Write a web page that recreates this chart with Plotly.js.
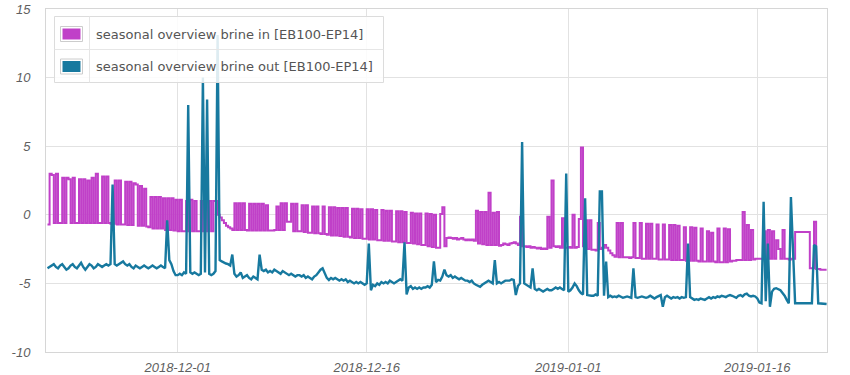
<!DOCTYPE html>
<html>
<head>
<meta charset="utf-8">
<script src="https://cdn.plot.ly/plotly-3.0.1.min.js"></script>
<style>html,body{margin:0;padding:0;background:#fff;}#chart{width:850px;height:375px;}</style>
</head>
<body>
<div id="chart"></div>
<script>
// Series names
const seriesNames = ['seasonal overview brine in [EB100-EP14]', 'seasonal overview brine out [EB100-EP14]'];
// Sampling grid: first sample time and step (hours)
const firstSample = '2018-11-20T16:00:00Z';
const stepHours = 4;
// Tick labels
const xTickVals = ['2018-12-01', '2018-12-16', '2019-01-01', '2019-01-16'];
const yTickVals = [-10, -5, 0, 5, 10, 15];

// brine in
const brineIn = [
-0.7, 3.0, 2.9, -0.6, 3.0, -0.6, -0.6, 2.7, -0.6, 2.7, 2.6, -0.6, 2.7, -0.6, -0.6, 2.6, -0.6, 2.6, -0.6, 2.5,
-0.6, 2.7, -0.6, 3.0, -0.6, -0.6, 2.8, -0.6, 2.8, -0.6, -0.65, -0.65, 2.5, -0.7, 2.5, -0.7, -0.7, 2.4, -0.75, 2.4,
-0.75, 2.3, 2.2, -0.8, 2.1, -0.8, 1.9, -0.85, -0.9, 1.3, -1.0, 1.3, -1.0, 1.3, -1.0, 1.2, -1.1, 1.2, -1.1, 1.2,
-1.15, 1.1, -1.2, 1.1, -1.2, -1.2, 1.0, -1.2, 1.1, -1.2, 1.0, -1.2, -1.2, 1.0, -1.2, 1.0, -1.2, 1.0, -1.2, 1.0,
1.0, 0.0, -0.2, -0.4, -0.6, -0.8, -0.9, -1.0, -1.1, 0.85, -1.1, 0.85, -1.1, 0.85, -1.1, -1.15, 0.8, -1.15, 0.8, -1.15,
0.8, -1.15, 0.8, -1.15, 0.7, -1.15, -1.15, -1.15, -1.1, 0.6, -1.1, 0.85, -1.1, 0.85, -0.5, -0.5, 0.8, -1.2, 0.8, -1.2,
-1.2, 0.7, -1.25, 0.7, -1.3, -1.3, 0.6, -1.35, 0.6, -1.35, -1.4, 0.6, -1.4, -1.45, 0.55, -1.5, 0.55, -1.5, 0.5, -1.55,
0.5, -1.6, 0.5, -1.6, -1.65, 0.45, -1.7, 0.45, -1.7, 0.4, -1.75, -1.75, 0.4, -1.8, 0.4, -1.8, 0.35, -1.85, -1.85, 0.35,
-1.9, 0.3, -1.9, 0.3, -1.95, -1.95, 0.25, -2.0, 0.25, -2.0, 0.2, -2.05, -2.05, 0.15, -2.1, 0.1, -2.15, 0.1, -2.2, -2.2,
0.1, -2.3, 0.05, -2.35, 0.0, -2.4, -2.4, 0.05, 0.55, -2.3, -1.7, -1.65, -1.7, -1.75, -1.7, -1.8, -1.75, -1.7, -1.8, -1.85,
-1.8, -1.85, -1.8, -1.9, 0.3, -2.1, 0.2, -2.15, 0.2, -2.2, 1.6, -2.2, 0.15, -2.2, 0.2, -2.25, -2.2, -2.1, -2.15, -2.2,
-2.1, -2.05, -2.0, -2.1, -2.2, -0.15, -2.3, -2.3, -2.35, -2.3, -2.4, -2.35, -2.4, -2.45, -2.4, -2.5, -2.45, -2.5, -0.15, -2.4,
2.5, -2.3, -2.35, -2.3, -2.4, -0.25, -2.4, -2.4, -2.35, -2.4, 0.0, -2.4, -2.35, -0.3, 4.9, -2.3, -0.4, -2.5, -0.4, -2.55,
-2.55, -2.6, -0.6, -2.5, -2.4, -2.2, -2.4, -2.6, -2.8, -2.95, -3.05, -0.6, -3.1, -0.6, -3.1, -3.1, -3.1, -3.15, -3.1, -0.6,
-3.15, -3.15, -0.6, -3.2, -3.2, -0.65, -3.2, -0.65, -3.2, -3.2, -0.7, -3.25, -3.25, -0.7, -3.25, -3.25, -0.75, -3.3, -0.75, -3.3,
-0.8, -3.3, -3.3, -0.9, -3.35, -3.35, -0.9, -3.35, -0.95, -3.35, -3.4, -1.0, -3.4, -3.4, -1.2, -3.4, -1.3, -3.4, -3.45, -1.0,
-3.45, -3.45, -1.0, -3.45, -1.05, -3.4, -3.35, -3.35, -3.3, -3.3, -3.3, 0.2, -3.3, -0.75, -3.3, -1.1, -3.25, -3.2, -3.2, -3.2,
-3.2, -1.2, -3.2, -1.1, -3.2, -1.2, -3.2, -1.85, -2.5, -3.2, -1.1, -3.2, -3.2, -3.25, -3.2, -3.2, -1.25, -1.25, -1.25, -1.25,
-1.25, -1.25, -1.25, -3.9, -3.9, -0.5, -3.95, -3.95, -4.0, -4.0, -4.0, -4.0
];

// brine out
const brineOut = [
-3.9, -3.8, -3.7, -3.6, -3.8, -3.9, -3.7, -3.6, -3.8, -4.0, -3.9, -3.7, -3.6, -3.8, -3.9, -3.7, -3.5, -3.8, -4.0, -3.8,
-3.6, -3.7, -3.9, -3.8, -3.6, -3.7, -3.8, -3.7, -3.6, -3.7, -3.6, 2.2, -3.6, -3.7, -3.6, -3.5, -3.4, -3.6, -3.7, -3.6,
-3.8, -3.9, -3.7, -3.8, -3.9, -3.8, -3.7, -3.8, -3.9, -3.8, -3.7, -3.8, -3.9, -3.8, -3.7, -3.8, -3.9, -0.4, -3.3, -3.6,
-4.1, -4.4, -4.4, -4.3, -4.4, -4.2, -4.3, 8.0, -4.2, -4.3, -4.2, -4.3, -4.4, -4.3, 10.0, -4.2, 8.4, -4.3, -4.4, -4.3,
-4.1, 13.1, -3.3, -3.4, -3.5, -3.55, -3.6, -3.7, -2.9, -4.3, -4.5, -4.4, -4.2, -4.6, -4.5, -4.4, -4.6, -4.7, -4.5, -4.6,
-4.7, -2.9, -4.0, -4.1, -4.0, -4.2, -4.1, -4.2, -4.0, -4.1, -4.2, -4.3, -4.1, -4.2, -4.3, -4.4, -4.3, -4.4, -4.5, -4.4,
-4.4, -4.5, -4.4, -4.6, -4.5, -4.6, -4.7, -4.5, -4.4, -4.2, -4.0, -3.9, -4.3, -4.6, -4.75, -4.6, -4.7, -4.6, -4.7, -4.8,
-4.7, -4.8, -4.7, -4.9, -4.8, -4.9, -5.0, -4.9, -5.0, -4.9, -5.0, -5.1, -5.0, -2.1, -5.5, -5.1, -5.2, -5.0, -5.1, -4.9,
-5.0, -4.9, -5.0, -4.8, -4.9, -5.0, -4.9, -4.8, -4.7, -4.8, -2.0, -5.8, -5.3, -5.2, -5.4, -5.3, -5.4, -5.3, -5.4, -5.3,
-5.3, -5.2, -5.3, -5.1, -3.4, -4.9, -4.75, -4.8, -4.5, -4.0, -4.4, -4.5, -4.4, -4.6, -4.5, -4.6, -4.7, -4.6, -4.7, -4.8,
-4.8, -4.9, -4.8, -5.0, -5.1, -5.2, -5.25, -5.1, -5.0, -4.9, -4.8, -4.9, -5.0, -3.3, -5.0, -4.9, -5.0, -4.9, -4.8, -4.8,
-4.8, -4.7, -4.75, -5.85, -5.2, -5.0, 5.3, -5.0, -5.1, -5.2, -5.3, -3.9, -5.4, -5.5, -5.4, -5.5, -5.6, -5.5, -5.4, -5.5,
-5.5, -5.4, -5.3, -5.4, -5.3, -5.4, -5.5, 3.0, -5.6, -5.5, -5.3, -5.0, -5.2, -5.5, -5.7, -5.8, 1.2, -5.85, -5.9, -5.9,
-5.9, -5.8, -5.9, 1.7, 1.7, -5.9, -3.4, -6.0, -5.9, -6.0, -5.95, -6.0, -5.9, -6.0, -6.05, -6.0, -5.95, -6.0, -6.05, -3.9,
-6.0, -6.05, -6.0, -5.95, -6.0, -6.05, -6.0, -5.9, -6.0, -6.1, -6.0, -5.9, -5.85, -6.7, -6.0, -5.9, -6.0, -6.1, -6.0, -6.05,
-6.0, -6.1, -6.0, -6.05, -6.0, -2.1, -6.0, -6.1, -6.2, -6.15, -6.2, -6.1, -6.15, -6.2, -6.1, -6.0, -6.1, -6.0, -6.05, -5.95,
-6.0, -5.9, -5.95, -6.0, -5.9, -5.85, -5.9, -6.0, -6.05, -5.9, -5.85, -5.95, -5.8, -5.75, -5.9, -5.95, -5.9, -5.95, -6.1, -6.4,
-6.45, 0.95, -6.3, -2.1, -6.7, -5.6, -5.4, -5.35, -5.4, -5.5, -5.7, -5.9, -6.2, -6.45, 1.3, -2.2, -6.45, -6.45, -6.45, -6.45,
-6.45, -6.45, -6.45, -6.45, -6.45, -2.2, -2.3, -6.45, -6.45, -6.45, -6.45, -6.5
];

const colors = ['#c040c8', '#17799f'];

function sampleTimes(n) {
  const t0 = Date.parse(firstSample);
  const out = [];
  const pad = v => String(v).padStart(2, '0');
  for (let i = 0; i < n; i++) {
    const d = new Date(t0 + i * stepHours * 3600000);
    out.push(d.getUTCFullYear() + '-' + pad(d.getUTCMonth() + 1) + '-' + pad(d.getUTCDate()) + ' ' + pad(d.getUTCHours()) + ':' + pad(d.getUTCMinutes()));
  }
  return out;
}

const xIn = sampleTimes(brineIn.length);
const xOut = sampleTimes(brineOut.length);

const traces = [
  {x: xIn, y: brineIn, type: 'scatter', mode: 'lines', name: seriesNames[0], line: {color: colors[0], width: 2, shape: 'hv'}},
  {x: xOut, y: brineOut, type: 'scatter', mode: 'lines', name: seriesNames[1], line: {color: colors[1], width: 2.4}}
];

// plot area in pixels: x 46..827, y 9..352
const L = 46, R = 827, T = 9, B = 352;
const px = v => (v - L) / (R - L);
const py = v => (B - v) / (B - T);

const shapes = [
  {type: 'rect', xref: 'paper', yref: 'paper', x0: px(54.5), x1: px(383.5), y0: py(82.5), y1: py(16.5), fillcolor: 'rgba(255,255,255,0.86)', line: {color: '#dcdcdc', width: 1}, layer: 'above'},
  {type: 'line', xref: 'paper', yref: 'paper', x0: px(54.5), x1: px(383.5), y0: py(49.5), y1: py(49.5), line: {color: '#e6e6e6', width: 1}, layer: 'above'},
  {type: 'line', xref: 'paper', yref: 'paper', x0: px(89.5), x1: px(89.5), y0: py(82.5), y1: py(16.5), line: {color: '#e6e6e6', width: 1}, layer: 'above'}
];
const rowsY = [34, 66.5];
rowsY.forEach((cy, k) => {
  shapes.push({type: 'rect', xref: 'paper', yref: 'paper', x0: px(60.5), x1: px(82.5), y0: py(cy + 7.5), y1: py(cy - 7.5), fillcolor: '#ffffff', line: {color: '#cccccc', width: 1}, layer: 'above'});
  shapes.push({type: 'rect', xref: 'paper', yref: 'paper', x0: px(62.5), x1: px(80.5), y0: py(cy + 5.5), y1: py(cy - 5.5), fillcolor: colors[k], line: {width: 0}, layer: 'above'});
});
const annotations = seriesNames.map((name, k) => ({
  xref: 'paper', yref: 'paper', x: px(94), y: py(rowsY[k]), xanchor: 'left', yanchor: 'middle',
  text: name, showarrow: false, font: {family: 'DejaVu Sans', size: 13, color: '#555555'}
}));

const tickFont = {family: 'Liberation Sans, Arial, sans-serif', size: 13, color: '#5f5f5f', style: 'italic'};

const layout = {
  width: 850, height: 375,
  margin: {l: L, r: 850 - R, t: T, b: 375 - B, pad: 0},
  paper_bgcolor: '#ffffff', plot_bgcolor: '#ffffff',
  showlegend: false,
  xaxis: {
    type: 'date', range: ['2018-11-20 13:09', '2019-01-21 12:43'],
    tickvals: xTickVals, ticktext: xTickVals,
    showgrid: true, gridcolor: '#e2e2e2', gridwidth: 1,
    showline: true, linecolor: '#d6d6d6', linewidth: 1, mirror: true,
    zeroline: false, ticks: '', tickfont: tickFont, ticklabelstandoff: 3
  },
  yaxis: {
    range: [-10, 15], tickvals: yTickVals, ticktext: yTickVals.map(String),
    showgrid: true, gridcolor: '#e2e2e2', gridwidth: 1,
    showline: true, linecolor: '#d6d6d6', linewidth: 1, mirror: true,
    zeroline: false, ticks: '', tickfont: tickFont, ticklabelstandoff: 12
  },
  shapes: shapes,
  annotations: annotations
};

Plotly.newPlot('chart', traces, layout, {staticPlot: true, displayModeBar: false});
</script>
</body>
</html>
